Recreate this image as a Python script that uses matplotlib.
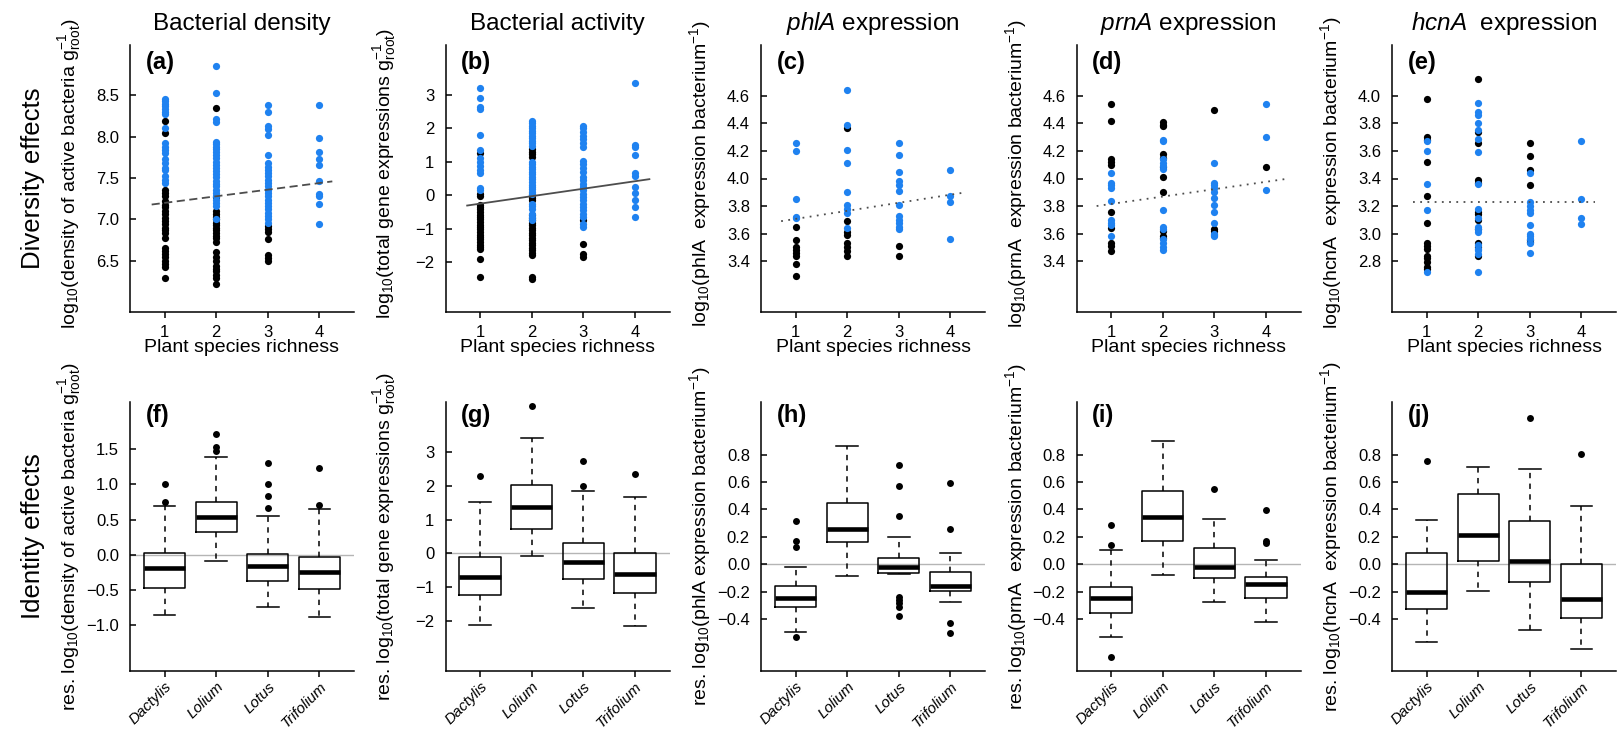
import matplotlib.pyplot as plt

plt.rcParams['font.family'] = 'Liberation Sans'
plt.rcParams['mathtext.fontset'] = 'custom'
plt.rcParams['mathtext.rm'] = 'Liberation Sans'
plt.rcParams['mathtext.it'] = 'Liberation Sans:italic'
plt.rcParams['mathtext.bf'] = 'Liberation Sans:bold'

BLUE = '#1f82f0'
richness = [1, 2, 3, 4]
species = ['Dactylis', 'Lolium', 'Lotus', 'Trifolium']

# ---- diversity effects: values per richness level (1..4), black / blue points
density_black = [
    [8.19, 8.04, 7.35, 7.32, 7.28, 7.22, 7.18, 7.15, 7.10, 7.06, 7.02, 6.98, 6.94, 6.90,
     6.87, 6.84, 6.77, 6.65, 6.62, 6.58, 6.55, 6.50, 6.46, 6.42, 6.29],
    [8.35, 7.27, 7.10, 7.06, 7.03, 7.00, 6.96, 6.93, 6.90, 6.87, 6.84, 6.80, 6.77, 6.73,
     6.60, 6.55, 6.50, 6.44, 6.40, 6.37, 6.33, 6.29, 6.22],
    [6.92, 6.88, 6.85, 6.76, 6.57, 6.53, 6.50],
    [],
]
density_blue = [
    [8.46, 8.43, 8.40, 8.37, 8.33, 8.30, 8.27, 8.10, 7.92, 7.88, 7.84, 7.80, 7.73, 7.68,
     7.62, 7.60, 7.52, 7.48, 7.44],
    [8.85, 8.53, 8.21, 8.18, 7.94, 7.91, 7.88, 7.85, 7.81, 7.78, 7.74, 7.70, 7.66, 7.62,
     7.58, 7.55, 7.51, 7.47, 7.43, 7.40, 7.36, 7.32, 7.28, 7.24, 7.20, 7.16, 7.00],
    [8.39, 8.30, 8.13, 8.09, 8.02, 7.78, 7.68, 7.64, 7.60, 7.56, 7.52, 7.48, 7.44, 7.40,
     7.36, 7.32, 7.28, 7.24, 7.20, 7.16, 7.12, 7.08, 7.04, 7.00, 6.96],
    [8.39, 7.98, 7.82, 7.73, 7.66, 7.46, 7.31, 7.28, 7.19, 6.95],
]
activity_black = [
    [1.25, 0.05, -0.02, -0.28, -0.35, -0.42, -0.50, -0.58, -0.65, -0.72, -0.80, -0.88, -0.95,
     -1.02, -1.10, -1.18, -1.25, -1.32, -1.40, -1.48, -1.55, -1.62, -1.90, -2.45],
    [1.38, 1.30, 1.22, 1.15, 0.02, -0.08, -0.15, -0.60, -0.68, -0.75, -0.82, -0.90, -0.98,
     -1.05, -1.12, -1.20, -1.28, -1.35, -1.42, -1.50, -1.58, -1.65, -1.72, -1.80, -2.45, -2.52],
    [-0.75, -1.45, -1.75, -1.85],
    [],
]
activity_blue = [
    [3.20, 2.92, 2.65, 2.58, 1.80, 1.35, 1.12, 1.00, 0.88, 0.76, 0.65, 0.22, 0.15],
    [2.22, 2.15, 2.08, 2.00, 1.92, 1.85, 1.78, 1.70, 1.62, 1.55, 1.48, 1.00, 0.92, 0.85,
     0.78, 0.70, 0.62, 0.55, 0.48, 0.40, 0.32, 0.25, 0.18, 0.10, 0.03, -0.25, -0.32, -0.40,
     -0.55, -0.65, -0.75],
    [2.08, 2.00, 1.90, 1.78, 1.68, 1.55, 1.45, 1.02, 0.92, 0.82, 0.68, 0.55, 0.45, 0.35,
     0.25, 0.15, 0.05, -0.05, -0.15, -0.25, -0.35, -0.45, -0.55, -0.65, -0.85, -0.95],
    [3.37, 1.50, 1.43, 1.20, 0.65, 0.58, 0.25, 0.08, -0.15, -0.35, -0.65],
]
phla_black = [
    [3.645, 3.555, 3.50, 3.48, 3.46, 3.44, 3.38, 3.29],
    [4.37, 3.69, 3.61, 3.59, 3.53, 3.50, 3.47, 3.44],
    [3.51, 3.44],
    [],
]
phla_blue = [
    [4.26, 4.20, 3.85, 3.72, 3.71],
    [4.64, 4.39, 4.21, 4.11, 3.90, 3.81, 3.78, 3.75, 3.64],
    [4.26, 4.17, 4.05, 3.98, 3.95, 3.91, 3.81, 3.73, 3.70, 3.68, 3.65, 3.63],
    [4.06, 3.87, 3.83, 3.56],
]
prna_black = [
    [4.54, 4.42, 4.14, 4.12, 4.10, 3.76, 3.64, 3.53, 3.51, 3.47],
    [4.41, 4.39, 4.38, 4.18, 4.15, 4.08, 4.01, 3.90, 3.62, 3.58, 3.57],
    [4.50, 3.63, 3.62],
    [4.08],
]
prna_blue = [
    [4.04, 3.97, 3.95, 3.93, 3.84, 3.70, 3.68, 3.66, 3.58],
    [4.28, 4.27, 4.14, 4.11, 4.09, 4.07, 3.77, 3.65, 3.63, 3.56, 3.53, 3.50, 3.48],
    [4.11, 3.97, 3.95, 3.93, 3.90, 3.86, 3.81, 3.76, 3.68, 3.60, 3.59, 3.58],
    [4.54, 4.30, 3.92],
]
hcna_black = [
    [3.98, 3.70, 3.68, 3.52, 3.27, 3.08, 2.93, 2.91, 2.89, 2.84, 2.82, 2.79, 2.76, 2.74],
    [4.12, 3.74, 3.66, 3.39, 3.37, 3.16, 3.14, 3.10, 3.03, 2.93, 2.90, 2.84],
    [3.66, 3.56, 3.46, 3.35, 2.95, 2.94],
    [],
]
hcna_blue = [
    [3.67, 3.60, 3.36, 3.17, 2.72],
    [3.95, 3.88, 3.86, 3.80, 3.75, 3.69, 3.59, 3.36, 3.18, 3.11, 3.05, 3.03, 3.01, 2.92,
     2.89, 2.88, 2.85, 2.72],
    [3.44, 3.23, 3.20, 3.17, 3.15, 3.06, 3.00, 2.98, 2.96, 2.93, 2.86],
    [3.67, 3.25, 3.11, 3.07],
]

# fitted richness lines (x from, x to) and (y from, y to)
fit_x = [[0.75, 4.25], [0.75, 4.28], [0.72, 4.22], [0.72, 4.45], [0.74, 4.26]]
fit_y = [[7.18, 7.46], [-0.31, 0.48], [3.69, 3.895], [3.80, 4.00], [3.23, 3.23]]

# ---- identity effects: box statistics per species
f_med = [-0.19, 0.54, -0.165, -0.25]
f_q1 = [-0.47, 0.32, -0.37, -0.48]
f_q3 = [0.03, 0.755, 0.01, -0.03]
f_lo = [-0.86, -0.085, -0.74, -0.89]
f_hi = [0.69, 1.39, 0.55, 0.645]
f_out = [[1.0, 0.75], [1.72, 1.53, 1.48], [1.31, 1.0, 0.83, 0.67], [1.23, 0.71]]

g_med = [-0.69, 1.38, -0.26, -0.61]
g_q1 = [-1.24, 0.71, -0.77, -1.19]
g_q3 = [-0.12, 2.04, 0.30, 0.01]
g_lo = [-2.14, -0.07, -1.64, -2.17]
g_hi = [1.53, 3.44, 1.84, 1.66]
g_out = [[2.31], [4.39], [2.74, 2.01], [2.37]]

h_med = [-0.249, 0.256, -0.022, -0.159]
h_q1 = [-0.31, 0.161, -0.061, -0.195]
h_q3 = [-0.159, 0.446, 0.049, -0.054]
h_lo = [-0.498, -0.083, -0.075, -0.273]
h_hi = [-0.017, 0.866, 0.202, 0.08]
h_out = [[0.317, 0.166, 0.124, -0.53], [],
         [0.727, 0.568, 0.349, -0.24, -0.265, -0.285, -0.31, -0.378],
         [0.593, 0.259, -0.432, -0.505]]

i_med = [-0.249, 0.344, -0.017, -0.144]
i_q1 = [-0.359, 0.171, -0.102, -0.244]
i_q3 = [-0.168, 0.532, 0.122, -0.09]
i_lo = [-0.534, -0.078, -0.273, -0.42]
i_hi = [0.105, 0.902, 0.332, 0.032]
i_out = [[0.29, 0.141, -0.68], [], [0.551], [0.393, 0.171, 0.154]]

j_med = [-0.205, 0.21, 0.02, -0.251]
j_q1 = [-0.324, 0.02, -0.132, -0.393]
j_q3 = [0.085, 0.515, 0.317, 0.0]
j_lo = [-0.566, -0.195, -0.48, -0.622]
j_hi = [0.324, 0.71, 0.695, 0.427]
j_out = [[0.751], [], [1.066], [0.805]]

titles = ['Bacterial density', 'Bacterial activity', r'$\mathit{phlA}$ expression',
          r'$\mathit{prnA}$ expression', r'$\mathit{hcnA}$  expression']
top_ylabels = [r'log$_{10}$(density of active bacteria g$_{\mathrm{root}}^{-1}$)',
               r'log$_{10}$(total gene expressions g$_{\mathrm{root}}^{-1}$)',
               r'log$_{10}$(phlA  expression bacterium$^{-1}$)',
               r'log$_{10}$(prnA  expression bacterium$^{-1}$)',
               r'log$_{10}$(hcnA  expression bacterium$^{-1}$)']
bottom_ylabels = [r'res. log$_{10}$(density of active bacteria g$_{\mathrm{root}}^{-1}$)',
                  r'res. log$_{10}$(total gene expressions g$_{\mathrm{root}}^{-1}$)',
                  r'res. log$_{10}$(phlA expression bacterium$^{-1}$)',
                  r'res. log$_{10}$(prnA  expression bacterium$^{-1}$)',
                  r'res. log$_{10}$(hcnA  expression bacterium$^{-1}$)']
top_ticks = [[6.5, 7.0, 7.5, 8.0, 8.5], [-2, -1, 0, 1, 2, 3],
             [3.4, 3.6, 3.8, 4.0, 4.2, 4.4, 4.6], [3.4, 3.6, 3.8, 4.0, 4.2, 4.4, 4.6],
             [2.8, 3.0, 3.2, 3.4, 3.6, 3.8, 4.0]]
bottom_ticks = [[-1.0, -0.5, 0.0, 0.5, 1.0, 1.5], [-2, -1, 0, 1, 2, 3],
                [-0.4, -0.2, 0.0, 0.2, 0.4, 0.6, 0.8], [-0.4, -0.2, 0.0, 0.2, 0.4, 0.6, 0.8],
                [-0.4, -0.2, 0.0, 0.2, 0.4, 0.6, 0.8]]
top_ylim = [(5.88, 9.11), (-3.5, 4.5), (3.03, 4.97), (3.03, 4.97), (2.43, 4.37)]
bottom_ylim = [(-1.65, 2.17), (-3.5, 4.5), (-0.78, 1.185), (-0.78, 1.185), (-0.78, 1.185)]

top_black = [density_black, activity_black, phla_black, prna_black, hcna_black]
top_blue = [density_blue, activity_blue, phla_blue, prna_blue, hcna_blue]
fit_styles = [(0, (4.5, 2.5)), '-', (0, (1, 3)), (0, (1, 3)), (0, (1, 3))]
boxes = [(f_med, f_q1, f_q3, f_lo, f_hi, f_out), (g_med, g_q1, g_q3, g_lo, g_hi, g_out),
         (h_med, h_q1, h_q3, h_lo, h_hi, h_out), (i_med, i_q1, i_q3, i_lo, i_hi, i_out),
         (j_med, j_q1, j_q3, j_lo, j_hi, j_out)]


def fmt(v, integer):
    s = '%d' % v if integer else '%.1f' % v
    return s.replace('-', '\u2212')


def style_axes(ax):
    for side in ['top', 'right']:
        ax.spines[side].set_visible(False)
    for side in ['left', 'bottom']:
        ax.spines[side].set_linewidth(1.1)
    ax.tick_params(axis='y', direction='in', length=4, width=1.1, pad=8, labelsize=12)


W, H = 1617, 734
fig = plt.figure(figsize=(W / 100, H / 100), dpi=100)
lefts = [130, 445.5, 761, 1076.5, 1392]
aw = 224

for k in range(5):
    # top row: richness scatter
    ax = fig.add_axes([lefts[k] / W, 1 - 312 / H, aw / W, 267 / H])
    style_axes(ax)
    for i, r in enumerate(richness):
        ax.scatter([r] * len(top_black[k][i]), top_black[k][i], s=27, color='black',
                   linewidths=0, zorder=2)
        ax.scatter([r] * len(top_blue[k][i]), top_blue[k][i], s=27, color=BLUE,
                   linewidths=0, zorder=2)
    ax.plot(fit_x[k], fit_y[k], color='#4d4d4d', lw=1.3, linestyle=fit_styles[k], zorder=3)
    ax.set_xlim(0.33, 4.67)
    ax.set_ylim(*top_ylim[k])
    ax.set_xticks(richness)
    ax.set_xticklabels([str(r) for r in richness])
    ax.tick_params(axis='x', direction='out', length=4.5, width=1.1, pad=4.5, labelsize=12)
    ax.set_yticks(top_ticks[k])
    ax.set_yticklabels([fmt(v, k == 1) for v in top_ticks[k]])
    ax.set_xlabel('Plant species richness', fontsize=14)
    ax.xaxis.set_label_coords(0.5, -0.1)
    ax.text(-0.272, 0.52, top_ylabels[k], transform=ax.transAxes, rotation=90,
            ha='center', va='center', fontsize=14)
    ax.text(0.07, 0.936, '(%s)' % 'abcde'[k], transform=ax.transAxes, fontsize=17,
            fontweight='bold', ha='left', va='center')
    ax.text(0.5, 1.056, titles[k], transform=ax.transAxes, fontsize=17.5,
            ha='center', va='baseline')

    # bottom row: species identity boxplots
    ax = fig.add_axes([lefts[k] / W, 1 - 671 / H, aw / W, 269 / H])
    style_axes(ax)
    med, q1, q3, lo, hi, out = boxes[k]
    stats = [dict(med=med[i], q1=q1[i], q3=q3[i], whislo=lo[i], whishi=hi[i],
                  fliers=out[i]) for i in range(4)]
    ax.axhline(0, color='#b5b5b5', lw=1.0, zorder=0)
    ax.bxp(stats, positions=richness, widths=0.8, capwidths=0.42, manage_ticks=False,
           boxprops=dict(color='black', lw=1.1),
           medianprops=dict(color='black', lw=3.3, solid_capstyle='butt'),
           whiskerprops=dict(color='black', lw=1.1, linestyle=(0, (3.5, 3.5))),
           capprops=dict(color='black', lw=1.1),
           flierprops=dict(marker='o', markerfacecolor='black', markeredgecolor='black',
                           markersize=5, markeredgewidth=0))
    ax.set_xlim(0.33, 4.67)
    ax.set_ylim(*bottom_ylim[k])
    ax.set_xticks(richness)
    ax.set_xticklabels(species, rotation=45, ha='right', rotation_mode='anchor',
                       fontstyle='italic')
    ax.tick_params(axis='x', direction='out', length=4.5, width=1.1, pad=1.5, labelsize=11)
    ax.set_yticks(bottom_ticks[k])
    ax.set_yticklabels([fmt(v, k == 1) for v in bottom_ticks[k]])
    ax.text(-0.272, 0.5, bottom_ylabels[k], transform=ax.transAxes, rotation=90,
            ha='center', va='center', fontsize=14)
    ax.text(0.07, 0.95, '(%s)' % 'fghij'[k], transform=ax.transAxes, fontsize=17,
            fontweight='bold', ha='left', va='center')

fig.text(33 / W, 1 - 178 / H, 'Diversity effects', rotation=90, ha='center', va='center',
         fontsize=18.5)
fig.text(33 / W, 1 - 536 / H, 'Identity effects', rotation=90, ha='center', va='center',
         fontsize=18.5)

fig.savefig('out.png', dpi=100)
